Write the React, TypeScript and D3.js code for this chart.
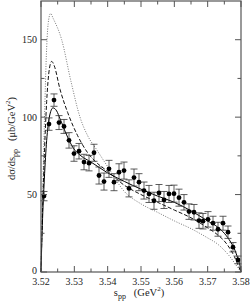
import React from 'react'
import * as d3 from 'd3'

// measured points: s_pp (GeV^2), dsigma/ds (ub/GeV^2), error
const sPoints = [
  3.5209, 3.5224, 3.5239, 3.5254, 3.5269, 3.5284, 3.5299, 3.5314, 3.5329, 3.5344,
  3.5359, 3.5374, 3.5389, 3.5404, 3.5419, 3.5434, 3.5449, 3.5464, 3.5479, 3.5494,
  3.5509, 3.5524, 3.5539, 3.5554, 3.5569, 3.5584, 3.5599, 3.5614, 3.5629, 3.5644,
  3.5659, 3.5674, 3.5686, 3.5701, 3.5716, 3.5731, 3.5746, 3.5761, 3.5776, 3.5791
]
const sigmaPoints = [
  49, 95.5, 111, 96.5, 94, 85, 76.5, 78, 71, 70.3,
  77, 62.3, 58.4, 66.6, 58, 64.4, 65.5, 54, 61, 58,
  52.6, 50.4, 46, 51, 46.5, 50.4, 50.6, 48, 45, 39,
  38.6, 33.2, 32.8, 34, 31.5, 27.6, 31.5, 25.7, 16, 7.8
]
const sigmaErrors = [
  3, 4, 4, 4.5, 4.5, 5, 5, 5, 5, 5,
  5.5, 5.5, 5.5, 5.5, 5.5, 5.5, 5.5, 5.5, 5.5, 5.5,
  5.5, 5.5, 5.5, 5.5, 5.5, 5.5, 5.5, 5.5, 5, 5,
  5, 5, 5, 5, 4.5, 4.5, 4.5, 4, 3, 2.5
]

// model curves (sampled from the figure)
const solidS = [3.52, 3.5204, 3.521, 3.5217, 3.5225, 3.5236, 3.5247, 3.5257, 3.5277, 3.5297, 3.532, 3.535, 3.54, 3.545, 3.55, 3.555, 3.56, 3.565, 3.57, 3.573, 3.575, 3.577, 3.578, 3.579, 3.5797, 3.58]
const solidV = [0, 30, 60, 85, 100, 106, 104, 99, 88.5, 80, 75, 71, 64, 58.5, 53.5, 49, 45, 39.5, 33, 29, 25, 19, 15, 9, 4, 0]

const dashedS = [3.52, 3.5204, 3.521, 3.5217, 3.5225, 3.5232, 3.524, 3.5257, 3.528, 3.531, 3.534, 3.537, 3.54, 3.545, 3.55, 3.555, 3.56, 3.565, 3.57, 3.573, 3.575, 3.577, 3.578, 3.579, 3.58]
const dashedV = [0, 35, 75, 110, 131, 136, 133, 118, 103, 88, 77, 70, 65, 56, 50, 45, 40, 35, 28.5, 24, 20, 14, 10, 5, 0]

const dottedS = [3.52, 3.5204, 3.521, 3.5217, 3.5223, 3.5229, 3.5236, 3.5262, 3.529, 3.5317, 3.534, 3.5367, 3.54, 3.545, 3.55, 3.555, 3.56, 3.565, 3.57, 3.573, 3.575, 3.577, 3.578, 3.579, 3.58]
const dottedV = [0, 40, 95, 145, 163, 167, 164, 150, 123, 100, 88, 79, 68, 52, 44, 38.5, 33, 28, 22, 18, 14, 9, 6, 3, 0]

const xTicks = [3.52, 3.53, 3.54, 3.55, 3.56, 3.57, 3.58]
const yTicks = [0, 50, 100, 150]

const width = 250
const height = 303
const margin = { top: 1, right: 9, bottom: 31, left: 41 }

export default function App() {
  const x = d3.scaleLinear().domain([3.52, 3.58]).range([margin.left, width - margin.right])
  const y = d3.scaleLinear().domain([0, 175]).range([height - margin.bottom, margin.top])

  const line = d3
    .line<[number, number]>()
    .x(d => x(d[0]))
    .y(d => y(d[1]))
    .curve(d3.curveMonotoneX)

  const solid = line(solidS.map((s, i) => [s, solidV[i]]))
  const dashed = line(dashedS.map((s, i) => [s, dashedV[i]]))
  const dotted = line(dottedS.map((s, i) => [s, dottedV[i]]))

  const xMinor = d3.range(3.525, 3.58, 0.01)
  const yMinor = d3.range(25, 175, 50)
  const x0 = margin.left
  const x1 = width - margin.right
  const y0 = height - margin.bottom
  const y1 = margin.top
  const axisColor = '#555'
  const font = '"Liberation Serif", "DejaVu Serif", serif'

  return (
    <svg width={width} height={height} style={{ position: 'absolute', left: 0, top: 0, background: 'white' }}>
      {/* curves */}
      <path d={dotted || ''} fill="none" stroke="#777" strokeWidth={1} strokeDasharray="1,1.5" />
      <path d={dashed || ''} fill="none" stroke="#111" strokeWidth={1} strokeDasharray="4,2" />
      <path d={solid || ''} fill="none" stroke="#000" strokeWidth={1} />

      {/* data with error bars */}
      {sPoints.map((s, i) => {
        const cx = x(s)
        const top = y(sigmaPoints[i] + sigmaErrors[i])
        const bot = y(sigmaPoints[i] - sigmaErrors[i])
        return (
          <g key={i} stroke="#333" strokeWidth={0.8}>
            <line x1={cx} x2={cx} y1={top} y2={bot} />
            <line x1={cx - 3.5} x2={cx + 3.5} y1={top} y2={top} />
            <line x1={cx - 3.5} x2={cx + 3.5} y1={bot} y2={bot} />
            <circle cx={cx} cy={y(sigmaPoints[i])} r={2.4} fill="#000" stroke="none" />
          </g>
        )
      })}

      {/* frame */}
      <rect x={x0} y={y1} width={x1 - x0} height={y0 - y1} fill="none" stroke={axisColor} strokeWidth={1.2} />

      {/* x ticks */}
      {xTicks.map(t => (
        <g key={'xt' + t}>
          <line x1={x(t)} x2={x(t)} y1={y0} y2={y0 - 6} stroke={axisColor} />
          <line x1={x(t)} x2={x(t)} y1={y1} y2={y1 + 6} stroke={axisColor} />
          <text x={x(t)} y={y0 + 13} textAnchor="middle" fontFamily={font} fontSize={10} fill="#222">
            {t.toFixed(2)}
          </text>
        </g>
      ))}
      {xMinor.map(t => (
        <g key={'xm' + t}>
          <line x1={x(t)} x2={x(t)} y1={y0} y2={y0 - 3.5} stroke={axisColor} />
          <line x1={x(t)} x2={x(t)} y1={y1} y2={y1 + 3.5} stroke={axisColor} />
        </g>
      ))}

      {/* y ticks */}
      {yTicks.map(t => (
        <g key={'yt' + t}>
          <line x1={x0} x2={x0 + 6} y1={y(t)} y2={y(t)} stroke={axisColor} />
          <line x1={x1} x2={x1 - 6} y1={y(t)} y2={y(t)} stroke={axisColor} />
          <text x={x0 - 4} y={y(t) + (t === 0 ? 2 : 3.5)} textAnchor="end" fontFamily={font} fontSize={10} fill="#222">
            {t}
          </text>
        </g>
      ))}
      {yMinor.map(t => (
        <g key={'ym' + t}>
          <line x1={x0} x2={x0 + 3.5} y1={y(t)} y2={y(t)} stroke={axisColor} />
          <line x1={x1} x2={x1 - 3.5} y1={y(t)} y2={y(t)} stroke={axisColor} />
        </g>
      ))}

      {/* axis titles */}
      <text x={(x0 + x1) / 2 - 2} y={296} textAnchor="middle" fontFamily={font} fontSize={10.5} fill="#222">
        s<tspan fontSize={8} dy={3}>pp</tspan>
        <tspan dy={-3}>{'\u2002 (GeV'}</tspan>
        <tspan fontSize={7} dy={-5}>2</tspan>
        <tspan dy={5}>)</tspan>
      </text>
      <text
        transform={`translate(15, ${(y0 + y1) / 2 + 2}) rotate(-90)`}
        textAnchor="middle"
        fontFamily={font}
        fontSize={10.5}
        fill="#222"
      >
        dσ/ds<tspan fontSize={8} dy={3}>pp</tspan>
        <tspan dy={-3}>{'\u2002 (\u03bcb/GeV'}</tspan>
        <tspan fontSize={7} dy={-5}>2</tspan>
        <tspan dy={5}>)</tspan>
      </text>
    </svg>
  )
}
